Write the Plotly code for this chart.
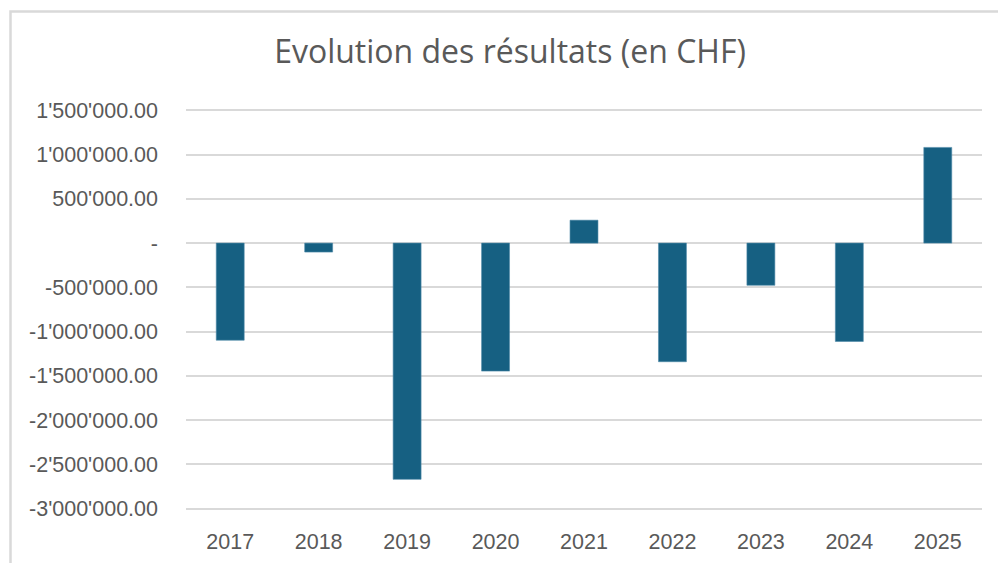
import plotly.graph_objects as go

years = ["2017", "2018", "2019", "2020", "2021", "2022", "2023", "2024", "2025"]
results = [-1097000, -101000, -2669000, -1446000, 259000, -1340000, -477000, -1111000, 1081000]

tick_vals = [1500000, 1000000, 500000, 0, -500000, -1000000, -1500000, -2000000, -2500000, -3000000]
tick_text = ["1'500'000.00", "1'000'000.00", "500'000.00", "-", "-500'000.00", "-1'000'000.00",
             "-1'500'000.00", "-2'000'000.00", "-2'500'000.00", "-3'000'000.00"]

W, H = 998, 563
ml, mr, mt, mb = 186, 16, 108.7, 52.7
pw, ph = W - ml - mr, H - mt - mb

fig = go.Figure(go.Bar(
    x=years, y=results,
    marker=dict(color="#166082", line=dict(color="#4f8aa8", width=0.6)),
    hoverinfo="x+y",
))

def px_to_paper_x(px):
    return (px - ml) / pw

def px_to_paper_y(py):
    return (H - mb - py) / ph

fig.update_layout(
    width=W, height=H,
    margin=dict(l=ml, r=mr, t=mt, b=mb, autoexpand=False),
    paper_bgcolor="white", plot_bgcolor="white",
    bargap=0.684,
    showlegend=False,
    font=dict(family="Liberation Sans, Arial, sans-serif", color="#595959", size=21),
    title=dict(
        text="Evolution des résultats (en CHF)",
        x=510 / W, xanchor="center",
        y=1 - 52 / H, yanchor="middle",
        font=dict(family="Open Sans, sans-serif", size=32, color="#595959"),
    ),
    xaxis=dict(
        showgrid=False, showline=False, zeroline=False,
        ticks="", ticklabelstandoff=16,
        tickfont=dict(size=21.5, color="#595959"),
    ),
    yaxis=dict(
        range=[-3015000, 1515000],
        tickvals=tick_vals, ticktext=tick_text,
        showgrid=True, gridcolor="#d9d9d9", gridwidth=2,
        zeroline=False, showline=False,
        ticks="", ticklabelstandoff=27,
        tickfont=dict(size=21.5, color="#595959"),
    ),
    shapes=[
        dict(type="rect", xref="paper", yref="paper",
             x0=px_to_paper_x(10.5), x1=px_to_paper_x(1010),
             y0=px_to_paper_y(580), y1=px_to_paper_y(11),
             line=dict(color="#d9d9d9", width=2.5), fillcolor="rgba(0,0,0,0)",
             layer="below"),
    ],
)

fig.write_html("out.html", config={"displayModeBar": False},
               post_script="document.body.style.margin='0';document.body.style.overflow='hidden';")
